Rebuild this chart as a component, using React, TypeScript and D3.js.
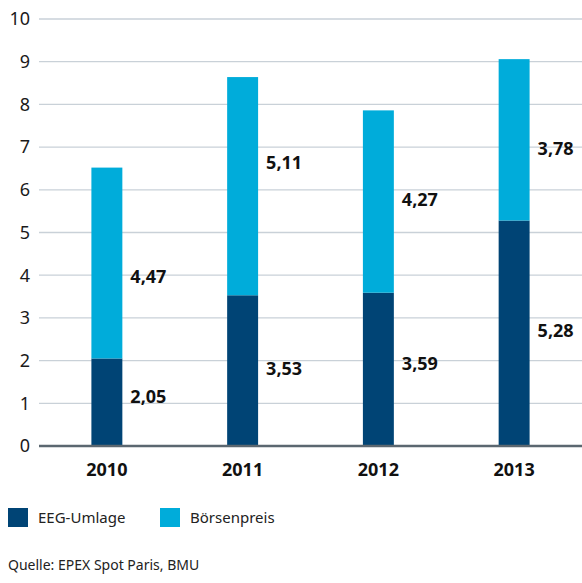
import React from "react";
import * as d3 from "d3";

const years = ["2010", "2011", "2012", "2013"];
const eeg = [2.05, 3.53, 3.59, 5.28];
const boerse = [4.47, 5.11, 4.27, 3.78];
// label anchor positions (in data units) as placed in the reference
const eegLabelAt = [1.15, 1.81, 1.92, 2.69];
const boerseLabelAt = [3.96, 6.63, 5.76, 6.96];
const yTicks = [0, 1, 2, 3, 4, 5, 6, 7, 8, 9, 10];
const seriesNames = ["EEG-Umlage", "Börsenpreis"];
const source = "Quelle: EPEX Spot Paris, BMU";

const W = 582, H = 583;
const C_DARK = "#004475";
const C_LIGHT = "#00acda";
const FONT = "'Noto Sans', 'Open Sans', sans-serif";

export default function App() {
  const x = d3.scaleBand().domain(years).range([39, 582]).paddingInner(0.772).paddingOuter(0.386);
  const y = d3.scaleLinear().domain([0, 10]).range([446, 19]);
  const fmt = (v: number) => v.toFixed(2).replace(".", ",");
  const bw = x.bandwidth();
  return (
    <svg width={W} height={H} style={{ position: "absolute", left: 0, top: 0 }} fontFamily={FONT}>
      {yTicks.map((t) => (
        <g key={t}>
          {t !== 0 && <line x1={39} x2={582} y1={y(t)} y2={y(t)} stroke="#c9d1d8" strokeWidth={1.3} />}
          <text x={30} y={y(t)} dy="0.35em" textAnchor="end" fontSize={18} fill="#1a1a1a">{t}</text>
        </g>
      ))}
      {years.map((yr, i) => {
        const x0 = x(yr)!;
        return (
          <g key={yr}>
            <rect x={x0} width={bw} y={y(eeg[i])} height={y(0) - y(eeg[i])} fill={C_DARK} />
            <rect x={x0} width={bw} y={y(eeg[i] + boerse[i])} height={y(eeg[i]) - y(eeg[i] + boerse[i])} fill={C_LIGHT} />
            <text x={x0 + bw + 8} y={y(eegLabelAt[i])} dy="0.35em" fontSize={18} fontWeight="bold" fill="#111">{fmt(eeg[i])}</text>
            <text x={x0 + bw + 8} y={y(boerseLabelAt[i])} dy="0.35em" fontSize={18} fontWeight="bold" fill="#111">{fmt(boerse[i])}</text>
            <text x={x0 + bw / 2} y={470} dy="0.35em" textAnchor="middle" fontSize={18} fontWeight="bold" fill="#111">{yr}</text>
          </g>
        );
      })}
      <line x1={39} x2={582} y1={y(0)} y2={y(0)} stroke="#5b6770" strokeWidth={2.5} />
      {seriesNames.map((n, i) => (
        <g key={n} transform={`translate(${8 + i * 152},508)`}>
          <rect width={20} height={19} fill={i === 0 ? C_DARK : C_LIGHT} />
          <text x={30} y={10} dy="0.35em" fontSize={15} fill="#222">{n}</text>
        </g>
      ))}
      <text x={8} y={565} dy="0.35em" fontSize={14} fill="#222">{source}</text>
    </svg>
  );
}
